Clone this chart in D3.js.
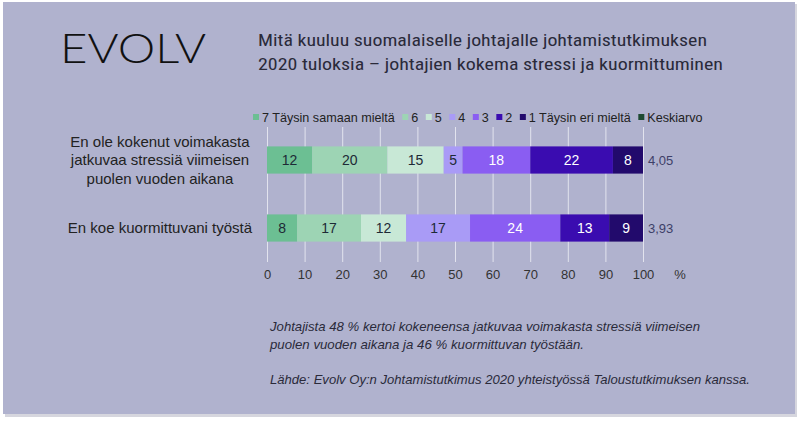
<!DOCTYPE html>
<html><head><meta charset="utf-8">
<script src="https://cdn.jsdelivr.net/npm/d3@7/dist/d3.min.js"></script>
<style>body{margin:0;background:#fff;}svg{display:block;}</style>
</head><body>
<svg id="c" width="800" height="422"></svg>
<script>
const categories = [
  ["En ole kokenut voimakasta", "jatkuvaa stressiä viimeisen", "puolen vuoden aikana"],
  ["En koe kuormittuvani työstä"]
];
const seriesNames = ["7 Täysin samaan mieltä", "6", "5", "4", "3", "2", "1 Täysin eri mieltä"];
const values = [
  [12, 20, 15, 5, 18, 22, 8],
  [8, 17, 12, 17, 24, 13, 9]
];
const averages = ["4,05", "3,93"];
const avgLabel = "Keskiarvo";
const ticks = [0, 10, 20, 30, 40, 50, 60, 70, 80, 90, 100];
const colors = ["#6cbf93", "#9dd4b4", "#c8e8d6", "#a99bf6", "#8a5df2", "#3a0cb0", "#220a6c"];
const avgColor = "#1e4a32";
const labelColors = ["#1d2a36", "#1d2a36", "#1d2a36", "#1d2a36", "#ffffff", "#ffffff", "#ffffff"];

const svg = d3.select("#c");
svg.append("rect").attr("x", 5).attr("y", 4).attr("width", 792).attr("height", 413).attr("fill", "#d6d6de");
svg.append("rect").attr("x", 3).attr("y", 2).attr("width", 792).attr("height", 412).attr("fill", "#b0b2ce");

svg.append("text").attr("x", 60).attr("y", 63).attr("font-family", "Lato").attr("font-weight", 300)
  .attr("font-size", 42).attr("fill", "#111").attr("textLength", 146).attr("lengthAdjust", "spacingAndGlyphs").text("EVOLV");

const titleLines = ["Mitä kuuluu suomalaiselle johtajalle johtamistutkimuksen", "2020 tuloksia – johtajien kokema stressi ja kuormittuminen"];
const titleLens = [449, 465];
titleLines.forEach((t, i) => {
  svg.append("text").attr("x", 258).attr("y", 46 + i * 24).attr("font-family", "Liberation Sans Narrow, Roboto Condensed, Liberation Sans")
    .attr("font-size", 17).attr("fill", "#2a2a3a").attr("textLength", titleLens[i]).attr("lengthAdjust", "spacingAndGlyphs").text(t);
});

const x = d3.scaleLinear().domain([0, 100]).range([267, 643]);
const y = d3.scaleBand().domain([0, 1]).range([126, 262]).paddingInner(0.6).paddingOuter(0.3);

const gx = d3.axisBottom(x).tickValues(ticks).tickSize(-135).tickFormat("");
svg.append("g").attr("transform", "translate(0,262)").call(gx)
  .call(g => g.select(".domain").remove())
  .call(g => g.selectAll("line").attr("stroke", "#e2e3ee").attr("stroke-width", 1));

const ax = d3.axisBottom(x).tickValues(ticks).tickSize(0).tickPadding(0);
svg.append("g").attr("transform", "translate(0,270)").call(ax)
  .call(g => g.select(".domain").remove())
  .call(g => g.selectAll("text").attr("font-family", "Liberation Sans, Arial").attr("font-size", 13).attr("fill", "#333"));
svg.append("text").attr("x", 680).attr("y", 279).attr("text-anchor", "middle").attr("font-family", "Liberation Sans, Arial")
  .attr("font-size", 13).attr("fill", "#333").text("%");

values.forEach((row, ri) => {
  let cum = 0;
  const g = svg.append("g");
  row.forEach((v, si) => {
    const x0 = cum, x1 = cum + v; cum = x1;
    g.append("rect").attr("x", x(x0)).attr("y", y(ri)).attr("width", x(x1) - x(x0)).attr("height", y.bandwidth()).attr("fill", colors[si]);
    g.append("text").attr("x", (x(x0) + x(x1)) / 2).attr("y", y(ri) + y.bandwidth() / 2 + 5).attr("text-anchor", "middle")
      .attr("font-family", "Liberation Sans, Arial").attr("font-size", 14).attr("fill", labelColors[si]).text(v);
  });
  svg.append("text").attr("x", x(cum) + 5).attr("y", y(ri) + y.bandwidth() / 2 + 5).attr("font-family", "Liberation Sans, Arial")
    .attr("font-size", 13).attr("fill", "#3e4068").text(averages[ri]);
  const lines = categories[ri];
  const cy = y(ri) + y.bandwidth() / 2;
  lines.forEach((l, li) => {
    svg.append("text").attr("x", 160).attr("y", cy + 5 + (li - (lines.length - 1) / 2) * 18.5).attr("text-anchor", "middle")
      .attr("font-family", "Liberation Sans, Arial").attr("font-size", 15).attr("fill", "#222").text(l);
  });
});

const legItems = seriesNames.map((n, i) => ({ n, c: colors[i] })).concat([{ n: avgLabel, c: avgColor }]);
const lg = svg.append("g");
let lx = 253;
legItems.forEach(it => {
  lg.append("rect").attr("x", lx).attr("y", 114).attr("width", 6).attr("height", 6).attr("fill", it.c);
  const t = lg.append("text").attr("x", lx + 9).attr("y", 121.5).attr("font-family", "Liberation Sans, Arial")
    .attr("font-size", 12.6).attr("fill", "#222").text(it.n);
  lx += 9 + t.node().getComputedTextLength() + 7.5;
});

const notes = [
  ["Johtajista 48 % kertoi kokeneensa jatkuvaa voimakasta stressiä viimeisen", 331, 430],
  ["puolen vuoden aikana ja 46 % kuormittuvan työstään.", 349, 314],
  ["Lähde: Evolv Oy:n Johtamistutkimus 2020 yhteistyössä Taloustutkimuksen kanssa.", 384, 480]
];
notes.forEach(([t, yy, len]) => {
  svg.append("text").attr("x", 270).attr("y", yy).attr("font-family", "Liberation Sans Narrow, Liberation Sans").attr("font-style", "italic")
    .attr("font-size", 13).attr("fill", "#2a2a3a").attr("textLength", len).attr("lengthAdjust", "spacingAndGlyphs").text(t);
});
</script>
</body></html>
